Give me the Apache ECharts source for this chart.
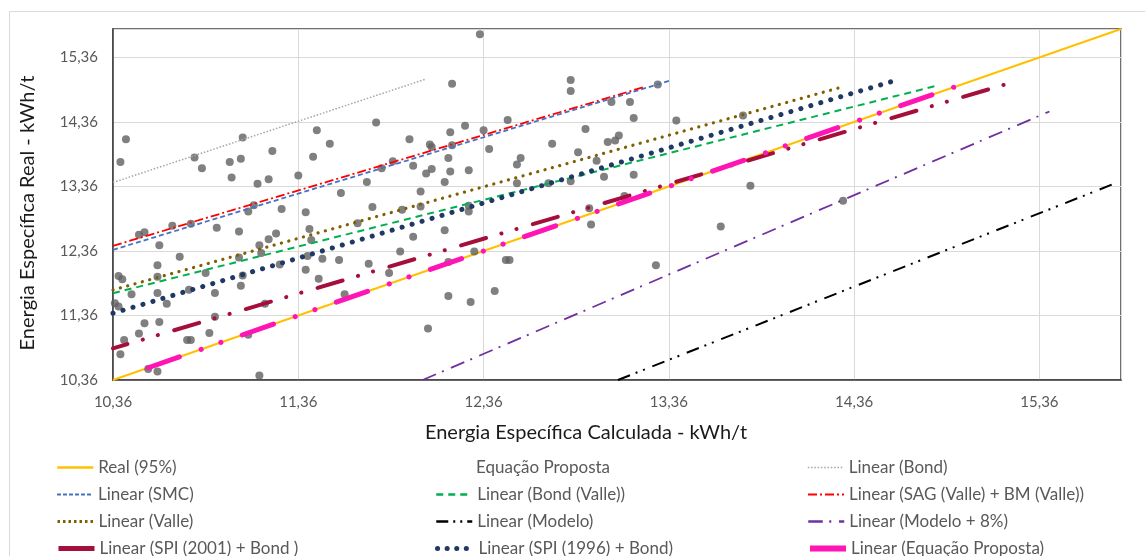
<!DOCTYPE html>
<html>
<head>
<meta charset="utf-8">
<script src="https://cdn.jsdelivr.net/npm/echarts@6/dist/echarts.min.js"></script>
<style>
html,body{margin:0;padding:0;background:#fff;}
#chart{width:1145px;height:556px;}
</style>
</head>
<body>
<div id="chart"></div>
<script>
// ---- data ----
const tickValues = [10.36, 11.36, 12.36, 13.36, 14.36, 15.36];
const axisMax = 15.8;

const calcValues = [10.43,10.40,10.80,10.84,11.06,10.99,11.05,11.00,11.22,11.14,11.20,11.12,11.09,11.27,10.68,10.78,10.53,10.50,10.61,10.92,
  11.04,11.24,11.20,11.15,11.16,10.72,10.60,10.39,10.41,10.60,10.86,11.06,11.26,11.05,10.77,10.91,10.46,10.60,10.37,10.39,
  10.65,11.18,10.91,10.53,10.61,10.50,10.88,10.42,10.76,10.78,11.09,10.40,10.55,10.60,11.15,11.04,12.19,11.78,11.46,11.53,
  11.44,11.36,11.59,11.73,11.81,11.87,11.96,11.98,12.07,12.08,12.05,12.08,12.02,12.18,12.19,12.17,12.18,12.15,12.26,12.28,
  12.28,12.28,11.76,11.40,11.92,12.02,11.68,11.42,11.43,12.15,11.98,11.41,11.49,11.58,11.91,11.74,11.40,11.85,11.47,11.61,
  12.17,12.29,12.06,12.17,12.34,12.83,12.83,13.05,13.15,13.17,12.49,12.36,12.91,12.39,12.73,12.87,13.03,13.07,13.09,12.56,
  12.54,12.97,13.01,13.17,12.54,12.71,12.83,12.93,12.94,12.31,12.48,12.50,12.42,13.12,13.30,13.40,13.29,13.76,13.80,13.64,14.30];
const realValues = [14.09,13.74,13.81,13.64,14.12,13.74,13.79,13.50,13.91,13.40,13.47,13.07,12.97,13.01,12.75,12.78,12.65,12.61,12.45,12.72,
  12.66,12.63,12.54,12.45,12.33,12.27,12.14,11.97,11.92,11.96,12.02,11.98,12.15,11.82,11.76,11.71,11.69,11.71,11.55,11.50,
  11.54,11.54,11.34,11.24,11.26,11.08,11.09,10.98,10.98,10.98,11.06,10.76,10.53,10.49,10.43,12.26,14.95,14.35,14.23,14.02,
  13.82,13.53,13.26,13.43,13.64,13.75,14.09,13.68,14.01,13.97,13.56,13.63,13.28,14.20,14.00,13.80,13.59,13.43,14.30,13.61,
  13.06,12.97,13.04,12.96,13.00,13.05,12.79,12.70,12.53,12.68,12.58,12.28,12.24,12.22,12.35,12.16,12.07,12.02,11.93,11.69,
  11.66,11.57,11.16,12.19,15.72,15.01,14.84,14.67,14.67,14.42,14.39,14.23,14.25,13.94,14.02,13.89,14.05,14.07,14.15,13.80,
  13.70,13.76,13.51,13.54,13.41,13.41,13.44,13.02,12.77,12.35,12.22,12.22,11.74,13.21,14.94,14.38,12.14,14.46,13.37,12.74,13.14];

const scatterName = 'Equação Proposta';
const lineNames = ['Real (95%)', 'Linear (Bond)', 'Linear (SMC)', 'Linear (Bond (Valle))',
  'Linear (SAG (Valle) + BM (Valle))', 'Linear (Valle)', 'Linear (Modelo)', 'Linear (Modelo + 8%)',
  'Linear (SPI (2001) + Bond )', 'Linear (SPI (1996) + Bond)', 'Linear (Equação Proposta)'];
const lineStartX = [10.36, 10.36, 10.36, 10.36, 10.36, 10.36, 13.085, 12.031, 10.36, 10.36, 10.55];
const lineStartY = [10.36, 13.421, 12.377, 11.705, 12.439, 11.756, 10.36, 10.36, 10.85, 11.395, 10.55];
const lineEndX   = [15.80, 12.05, 13.37, 14.806, 13.226, 14.281, 15.771, 15.414, 15.245, 14.58, 14.90];
const lineEndY   = [15.80, 15.025, 15.003, 14.921, 14.901, 14.89, 13.411, 14.522, 15.00, 15.00, 14.90];

const legendRows = [
  ['Real (95%)', 'Equação Proposta', 'Linear (Bond)'],
  ['Linear (SMC)', 'Linear (Bond (Valle))', 'Linear (SAG (Valle) + BM (Valle))'],
  ['Linear (Valle)', 'Linear (Modelo)', 'Linear (Modelo + 8%)'],
  ['Linear (SPI (2001) + Bond )', 'Linear (SPI (1996) + Bond)', 'Linear (Equação Proposta)']
];

// ---- styles ----
const FONT = 'Lato, "Open Sans", sans-serif';
const lineStyles = {
  'Real (95%)': {color:'#FFC000', width:2, type:'solid'},
  'Linear (Bond)': {color:'#A6A6A6', width:1.5, type:[1.5,1.8]},
  'Linear (SMC)': {color:'#4472C4', width:1.8, type:[5,3]},
  'Linear (Bond (Valle))': {color:'#00B050', width:2, type:[7,5]},
  'Linear (SAG (Valle) + BM (Valle))': {color:'#FF0000', width:1.8, type:[9,3,2,3]},
  'Linear (Valle)': {color:'#7F6000', width:3.2, type:[0.1,7.5], cap:'round'},
  'Linear (Modelo)': {color:'#000000', width:2, type:[13,6,2,6,2,8]},
  'Linear (Modelo + 8%)': {color:'#7030A0', width:1.8, type:[14.5,6.5,2,7.8]},
  'Linear (SPI (2001) + Bond )': {color:'#A50F3C', width:4, type:[26,16,0.1,15.6,0.1,17], cap:'round', dashOffset:11},
  'Linear (SPI (1996) + Bond)': {color:'#203864', width:5, type:[0.1,10.3], cap:'round'},
  'Linear (Equação Proposta)': {color:'#FF14B4', width:5, type:[33,23,0.1,20.8,0.1,22.6], cap:'round'}
};
// legend icon overrides (short icons show these patterns differently)
const legendLineOverrides = {
  'Real (95%)': {width:2.5},
  'Linear (Bond)': {width:1.5},
  'Linear (SMC)': {type:[4,2], width:2},
  'Linear (Bond (Valle))': {width:2.5},
  'Linear (SAG (Valle) + BM (Valle))': {width:2},
  'Linear (Valle)': {type:[2.5,3], cap:'butt', width:3},
  'Linear (Modelo)': {type:[12,5,2,5,2,5], width:2.5},
  'Linear (Modelo + 8%)': {width:2.5},
  'Linear (SPI (2001) + Bond )': {type:'solid', width:5, cap:'butt', dashOffset:0},
  'Linear (SPI (1996) + Bond)': {type:[0.1,9.5], width:5, cap:'round'},
  'Linear (Equação Proposta)': {type:'solid', width:6, cap:'butt'}
};

const fmt = v => (Math.round(v * 100) / 100).toFixed(2).replace('.', ',');

const series = [];
series.push({
  name: lineNames[0], type:'line', z:2, symbol:'none', silent:true,
  itemStyle:{opacity:0},
  data: [[lineStartX[0], lineStartY[0]], [lineEndX[0], lineEndY[0]]],
  lineStyle: lineStyles[lineNames[0]]
});
series.push({
  name: scatterName, type:'scatter', z:3, symbolSize:8, silent:true,
  itemStyle:{color:'#606060'},
  data: calcValues.map((x, i) => [x, realValues[i]])
});
for (let i = 1; i < lineNames.length; i++) {
  const n = lineNames[i];
  series.push({
    name: n, type:'line', z:4 + i, symbol:'none', silent:true,
    itemStyle:{opacity:0},
    data: [[lineStartX[i], lineStartY[i]], [lineEndX[i], lineEndY[i]]],
    lineStyle: lineStyles[n]
  });
}

const legendLefts = [56, 435, 807];
const legendCenters = [466, 493, 520, 547];
const legends = [];
legendRows.forEach((row, r) => {
  row.forEach((n, c) => {
    const lg = {
      orient:'horizontal', left: legendLefts[c] + (n === scatterName ? 11 : 0), top: legendCenters[r] - 7, padding:0,
      itemWidth: 36, itemHeight: 14, selectedMode:false,
      itemStyle:{opacity:0},
      textStyle:{fontFamily:FONT, fontSize:17, color:'#595959'},
      data: [{name:n}]
    };
    if (legendLineOverrides[n]) lg.lineStyle = legendLineOverrides[n];
    legends.push(lg);
  });
});

const axisCommon = {
  type:'value', min: tickValues[0], max: axisMax, interval: tickValues[1] - tickValues[0],
  nameLocation:'middle',
  axisLine:{show:true, lineStyle:{color:'#404040', width:1.5}},
  axisTick:{show:false},
  axisLabel:{fontFamily:FONT, fontSize:15, color:'#595959', formatter: fmt, showMaxLabel:false, margin:15},
  splitLine:{show:true, lineStyle:{color:'#D9D9D9', width:1}}
};

const chart = echarts.init(document.getElementById('chart'), null, {renderer:'canvas'});
chart.setOption({
  animation:false,
  backgroundColor:'#ffffff',
  grid:{left:113, right:24, top:29, bottom:176, show:true, borderColor:'#404040', borderWidth:1.5, backgroundColor:'transparent'},
  xAxis: Object.assign({}, axisCommon, {name:'Energia Específica Calculada - kWh/t', nameGap:43,
    nameTextStyle:{fontFamily:FONT, fontSize:20, color:'#1a1a1a', padding:[0,62,0,0]}}),
  yAxis: Object.assign({}, axisCommon, {name:'Energia Específica Real - kWh/t', nameGap:75,
    nameTextStyle:{fontFamily:FONT, fontSize:20, color:'#1a1a1a', padding:[0,17,0,0]}}),
  legend: legends,
  graphic:[{type:'rect', left:7, top:9, z:-10, silent:true, shape:{width:1150, height:560}, style:{fill:'none', stroke:'#D9D9D9', lineWidth:1}}],
  series: series
});
</script>
</body>
</html>
